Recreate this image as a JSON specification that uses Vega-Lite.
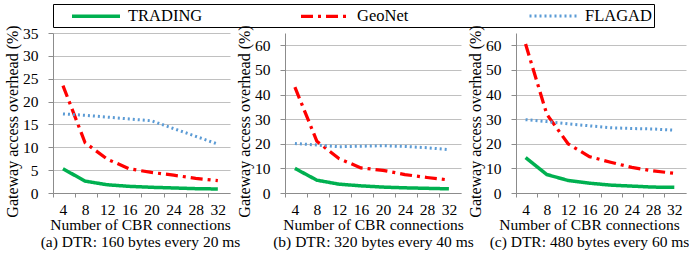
{
  "$schema": "https://vega.github.io/schema/vega-lite/v6.json",
  "padding": {"left": 4, "top": 3, "right": 0, "bottom": 0},
  "background": "white",
  "bounds": "flush",
  "datasets": {
    "a": [
      {"n": 4, "series": "TRADING", "v": 5.3}, {"n": 8, "series": "TRADING", "v": 2.6}, {"n": 12, "series": "TRADING", "v": 1.8}, {"n": 16, "series": "TRADING", "v": 1.45}, {"n": 20, "series": "TRADING", "v": 1.25}, {"n": 24, "series": "TRADING", "v": 1.1}, {"n": 28, "series": "TRADING", "v": 0.95}, {"n": 32, "series": "TRADING", "v": 0.88},
      {"n": 4, "series": "GeoNet", "v": 23.5}, {"n": 8, "series": "GeoNet", "v": 11}, {"n": 12, "series": "GeoNet", "v": 7.4}, {"n": 16, "series": "GeoNet", "v": 5.3}, {"n": 20, "series": "GeoNet", "v": 4.5}, {"n": 24, "series": "GeoNet", "v": 3.9}, {"n": 28, "series": "GeoNet", "v": 3.2}, {"n": 32, "series": "GeoNet", "v": 2.7},
      {"n": 4, "series": "FLAGAD", "v": 17.3}, {"n": 8, "series": "FLAGAD", "v": 17.0}, {"n": 12, "series": "FLAGAD", "v": 16.6}, {"n": 16, "series": "FLAGAD", "v": 16.2}, {"n": 20, "series": "FLAGAD", "v": 15.8}, {"n": 24, "series": "FLAGAD", "v": 14.1}, {"n": 28, "series": "FLAGAD", "v": 12.4}, {"n": 32, "series": "FLAGAD", "v": 10.7}
    ],
    "b": [
      {"n": 4, "series": "TRADING", "v": 10}, {"n": 8, "series": "TRADING", "v": 5.2}, {"n": 12, "series": "TRADING", "v": 3.6}, {"n": 16, "series": "TRADING", "v": 2.9}, {"n": 20, "series": "TRADING", "v": 2.4}, {"n": 24, "series": "TRADING", "v": 2.1}, {"n": 28, "series": "TRADING", "v": 1.9}, {"n": 32, "series": "TRADING", "v": 1.7},
      {"n": 4, "series": "GeoNet", "v": 43}, {"n": 8, "series": "GeoNet", "v": 21}, {"n": 12, "series": "GeoNet", "v": 14}, {"n": 16, "series": "GeoNet", "v": 10.2}, {"n": 20, "series": "GeoNet", "v": 9.2}, {"n": 24, "series": "GeoNet", "v": 7.5}, {"n": 28, "series": "GeoNet", "v": 6.3}, {"n": 32, "series": "GeoNet", "v": 5.3},
      {"n": 4, "series": "FLAGAD", "v": 20.1}, {"n": 8, "series": "FLAGAD", "v": 19.5}, {"n": 12, "series": "FLAGAD", "v": 18.8}, {"n": 16, "series": "FLAGAD", "v": 19.0}, {"n": 20, "series": "FLAGAD", "v": 19.2}, {"n": 24, "series": "FLAGAD", "v": 18.9}, {"n": 28, "series": "FLAGAD", "v": 18.4}, {"n": 32, "series": "FLAGAD", "v": 17.6}
    ],
    "c": [
      {"n": 4, "series": "TRADING", "v": 14.4}, {"n": 8, "series": "TRADING", "v": 7.5}, {"n": 12, "series": "TRADING", "v": 5.1}, {"n": 16, "series": "TRADING", "v": 4.0}, {"n": 20, "series": "TRADING", "v": 3.2}, {"n": 24, "series": "TRADING", "v": 2.8}, {"n": 28, "series": "TRADING", "v": 2.4}, {"n": 32, "series": "TRADING", "v": 2.3},
      {"n": 4, "series": "GeoNet", "v": 60.5}, {"n": 8, "series": "GeoNet", "v": 32}, {"n": 12, "series": "GeoNet", "v": 20}, {"n": 16, "series": "GeoNet", "v": 14.8}, {"n": 20, "series": "GeoNet", "v": 12.5}, {"n": 24, "series": "GeoNet", "v": 10.4}, {"n": 28, "series": "GeoNet", "v": 9}, {"n": 32, "series": "GeoNet", "v": 8},
      {"n": 4, "series": "FLAGAD", "v": 29.8}, {"n": 8, "series": "FLAGAD", "v": 29.0}, {"n": 12, "series": "FLAGAD", "v": 28.1}, {"n": 16, "series": "FLAGAD", "v": 27.3}, {"n": 20, "series": "FLAGAD", "v": 26.5}, {"n": 24, "series": "FLAGAD", "v": 26.2}, {"n": 28, "series": "FLAGAD", "v": 26.0}, {"n": 32, "series": "FLAGAD", "v": 25.5}
    ]
  },
  "spacing": 55,
  "hconcat": [
    {
      "width": 177, "height": 160,
      "data": {"name": "a"},
      "mark": {"type": "line", "strokeCap": "butt", "strokeJoin": "round"},
      "encoding": {
        "x": {"field": "n", "type": "quantitative", "scale": {"domain": [2.2, 34.2], "nice": false, "zero": false},
              "axis": {"values": [4, 8, 12, 16, 20, 24, 28, 32], "tickOffset": -10, "labelOffset": 10, "titleX": 87, "title": ["Number of CBR connections", "(a) DTR: 160 bytes every 20 ms"]}},
        "y": {"field": "v", "type": "quantitative", "scale": {"domain": [0, 35], "nice": false},
              "axis": {"values": [0, 5, 10, 15, 20, 25, 30, 35], "title": "Gateway access overhead (%)", "titleY": 88}},
        "color": {"field": "series", "type": "nominal", "scale": {"domain": ["TRADING", "GeoNet", "FLAGAD"], "range": ["#00B050", "#FF0000", "#5B9BD5"]}, "legend": {"title": "_"}},
        "strokeDash": {"field": "series", "type": "nominal", "scale": {"domain": ["TRADING", "GeoNet", "FLAGAD"], "range": [[1, 0], [12, 5, 3, 5], [2, 3]]}, "legend": {"title": "_"}},
        "strokeWidth": {"field": "series", "type": "nominal", "scale": {"domain": ["TRADING", "GeoNet", "FLAGAD"], "range": [3.5, 3, 2.5]}, "legend": {"title": "_"}}
      }
    },
    {
      "width": 176, "height": 160,
      "data": {"name": "b"},
      "mark": {"type": "line", "strokeCap": "butt", "strokeJoin": "round"},
      "encoding": {
        "x": {"field": "n", "type": "quantitative", "scale": {"domain": [2.2, 34.2], "nice": false, "zero": false},
              "axis": {"values": [4, 8, 12, 16, 20, 24, 28, 32], "tickOffset": -10, "labelOffset": 10, "titleX": 88, "title": ["Number of CBR connections", "(b) DTR: 320 bytes every 40 ms"]}},
        "y": {"field": "v", "type": "quantitative", "scale": {"domain": [0, 65], "nice": false},
              "axis": {"values": [0, 10, 20, 30, 40, 50, 60], "title": "Gateway access overhead (%)", "titleY": 88}},
        "color": {"field": "series", "type": "nominal", "scale": {"domain": ["TRADING", "GeoNet", "FLAGAD"], "range": ["#00B050", "#FF0000", "#5B9BD5"]}, "legend": {"title": "_"}},
        "strokeDash": {"field": "series", "type": "nominal", "scale": {"domain": ["TRADING", "GeoNet", "FLAGAD"], "range": [[1, 0], [12, 5, 3, 5], [2, 3]]}, "legend": {"title": "_"}},
        "strokeWidth": {"field": "series", "type": "nominal", "scale": {"domain": ["TRADING", "GeoNet", "FLAGAD"], "range": [3.5, 3, 2.5]}, "legend": {"title": "_"}}
      }
    },
    {
      "width": 170, "height": 160,
      "data": {"name": "c"},
      "mark": {"type": "line", "strokeCap": "butt", "strokeJoin": "round"},
      "encoding": {
        "x": {"field": "n", "type": "quantitative", "scale": {"domain": [2.2, 34.2], "nice": false, "zero": false},
              "axis": {"values": [4, 8, 12, 16, 20, 24, 28, 32], "tickOffset": -10, "labelOffset": 10, "titleX": 73, "title": ["Number of CBR connections", "(c) DTR: 480 bytes every 60 ms"]}},
        "y": {"field": "v", "type": "quantitative", "scale": {"domain": [0, 65], "nice": false},
              "axis": {"values": [0, 10, 20, 30, 40, 50, 60], "title": "Gateway access overhead (%)", "titleY": 88}},
        "color": {"field": "series", "type": "nominal", "scale": {"domain": ["TRADING", "GeoNet", "FLAGAD"], "range": ["#00B050", "#FF0000", "#5B9BD5"]}, "legend": {"title": "_"}},
        "strokeDash": {"field": "series", "type": "nominal", "scale": {"domain": ["TRADING", "GeoNet", "FLAGAD"], "range": [[1, 0], [12, 5, 3, 5], [2, 3]]}, "legend": {"title": "_"}},
        "strokeWidth": {"field": "series", "type": "nominal", "scale": {"domain": ["TRADING", "GeoNet", "FLAGAD"], "range": [3.5, 3, 2.5]}, "legend": {"title": "_"}}
      }
    }
  ],
  "config": {
    "font": "Liberation Serif",
    "view": {"stroke": null},
    "axis": {
      "labelFont": "Liberation Serif", "labelFontSize": 15.5, "labelColor": "#000000",
      "titleFont": "Liberation Serif", "titleFontSize": 15.5, "titleFontWeight": "normal", "titleColor": "#000000",
      "domainColor": "#8c8c8c", "tickColor": "#8c8c8c", "gridColor": "#c0c0c0", "gridWidth": 1, "domainWidth": 1
    },
    "axisX": {"grid": false, "tickSize": 4, "labelPadding": 5, "titlePadding": 0, "titleLineHeight": 17, "labelFlush": false, "labelOverlap": false},
    "axisY": {"grid": true, "tickSize": 5, "labelPadding": 10, "titlePadding": 2, "labelOverlap": false, "titleFontSize": 16},
    "legend": {
      "orient": "top", "offset": -3, "direction": "horizontal",
      "titleOrient": "left", "titlePadding": 6, "titleFontSize": 16.5, "titleColor": "#ffffff", "titleBaseline": "middle", "titleAnchor": "middle",
      "strokeColor": "#000000", "padding": 2,
      "symbolType": "M-1,0H5", "symbolSize": 256,
      "labelFont": "Liberation Serif", "labelFontSize": 16.5, "labelColor": "#000000", "labelOffset": 38, "labelLimit": 0,
      "columnPadding": 91, "gridAlign": "all"
    }
  }
}
